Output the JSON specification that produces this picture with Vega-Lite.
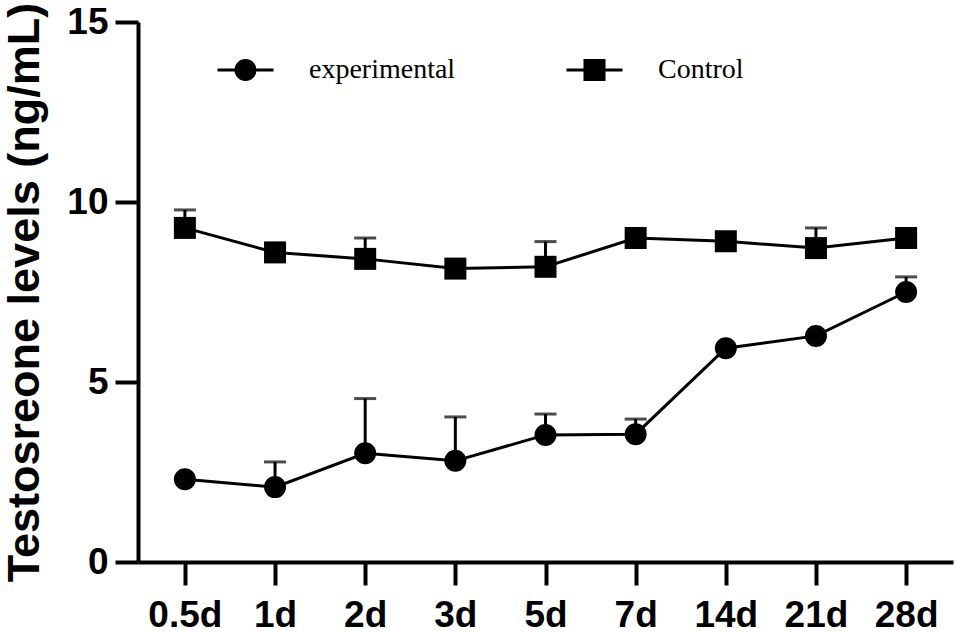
{
  "$schema": "https://vega.github.io/schema/vega-lite/v6.json",
  "width": 815,
  "height": 540,
  "autosize": "none",
  "padding": {"left": 138, "top": 22, "right": 4, "bottom": 71},
  "background": "white",
  "data": {
    "values": [
      {"time": "0.5d", "group": "experimental", "mean": 2.3, "upper": null},
      {"time": "1d", "group": "experimental", "mean": 2.08, "upper": 2.78},
      {"time": "2d", "group": "experimental", "mean": 3.02, "upper": 4.54},
      {"time": "3d", "group": "experimental", "mean": 2.81, "upper": 4.03},
      {"time": "5d", "group": "experimental", "mean": 3.53, "upper": 4.11},
      {"time": "7d", "group": "experimental", "mean": 3.55, "upper": 3.97},
      {"time": "14d", "group": "experimental", "mean": 5.94, "upper": null},
      {"time": "21d", "group": "experimental", "mean": 6.28, "upper": null},
      {"time": "28d", "group": "experimental", "mean": 7.5, "upper": 7.92},
      {"time": "0.5d", "group": "Control", "mean": 9.28, "upper": 9.78},
      {"time": "1d", "group": "Control", "mean": 8.6, "upper": null},
      {"time": "2d", "group": "Control", "mean": 8.42, "upper": 9.0},
      {"time": "3d", "group": "Control", "mean": 8.15, "upper": null},
      {"time": "5d", "group": "Control", "mean": 8.2, "upper": 8.9},
      {"time": "7d", "group": "Control", "mean": 9.0, "upper": null},
      {"time": "14d", "group": "Control", "mean": 8.91, "upper": null},
      {"time": "21d", "group": "Control", "mean": 8.72, "upper": 9.28},
      {"time": "28d", "group": "Control", "mean": 9.0, "upper": null}
    ]
  },
  "encoding": {
    "x": {
      "field": "time",
      "type": "ordinal",
      "sort": ["0.5d", "1d", "2d", "3d", "5d", "7d", "14d", "21d", "28d"],
      "scale": {"type": "point", "padding": 0.52},
      "axis": {
        "title": null,
        "labelAngle": 0,
        "labelFont": "Liberation Sans",
        "labelFontWeight": "bold",
        "labelFontSize": 37,
        "labelColor": "black",
        "labelPadding": 12,
        "tickSize": 23,
        "tickWidth": 4,
        "tickColor": "black",
        "domainWidth": 4,
        "domainColor": "black",
        "grid": false
      }
    }
  },
  "layer": [
    {
      "transform": [{"filter": "datum.upper != null"}],
      "mark": {"type": "rule", "color": "black", "strokeWidth": 3},
      "encoding": {
        "y": {"field": "mean", "type": "quantitative"},
        "y2": {"field": "upper"}
      }
    },
    {
      "transform": [{"filter": "datum.upper != null"}],
      "mark": {"type": "tick", "color": "black", "size": 22, "thickness": 3, "orient": "horizontal"},
      "encoding": {
        "y": {"field": "upper", "type": "quantitative"}
      }
    },
    {
      "mark": {"type": "line", "color": "black", "strokeWidth": 3},
      "encoding": {
        "y": {"field": "mean", "type": "quantitative"},
        "detail": {"field": "group"}
      }
    },
    {
      "mark": {"type": "point", "filled": true, "color": "black", "opacity": 1, "size": 484},
      "encoding": {
        "y": {
          "field": "mean",
          "type": "quantitative",
          "scale": {"domain": [0, 15], "nice": false},
          "axis": {
            "title": "Testosreone levels (ng/mL)",
            "titleFont": "Liberation Sans",
            "titleFontWeight": "bold",
            "titleFontSize": 45,
            "titleColor": "black",
            "titleX": -100,
            "titleY": 270,
            "titleAngle": 270,
            "titleBaseline": "alphabetic",
            "titleAlign": "center",
            "values": [0, 5, 10, 15],
            "labelFont": "Liberation Sans",
            "labelFontWeight": "bold",
            "labelFontSize": 37,
            "labelColor": "black",
            "labelPadding": 7,
            "tickSize": 23,
            "tickWidth": 4,
            "tickColor": "black",
            "domainWidth": 4,
            "domainColor": "black",
            "grid": false
          }
        },
        "shape": {
          "field": "group",
          "type": "nominal",
          "scale": {"domain": ["experimental", "Control"], "range": ["circle", "square"]},
          "legend": null
        }
      }
    },
    {
      "transform": [{"filter": "datum.mean < 0"}],
      "mark": {"type": "point", "filled": false, "color": "black", "stroke": "black", "strokeWidth": 3, "opacity": 1, "size": 3136},
      "encoding": {
        "y": {"field": "mean", "type": "quantitative"},
        "shape": {
          "field": "group",
          "type": "nominal",
          "scale": {
            "domain": ["experimental", "Control"],
            "range": [
              "M-1,0H1M0,-0.07V0.07M0.34,0A0.34,0.34,0,1,1,-0.34,0A0.34,0.34,0,1,1,0.34,0M0.25,0A0.25,0.25,0,1,1,-0.25,0A0.25,0.25,0,1,1,0.25,0M0.16,0A0.16,0.16,0,1,1,-0.16,0A0.16,0.16,0,1,1,0.16,0M0.07,0A0.07,0.07,0,1,1,-0.07,0A0.07,0.07,0,1,1,0.07,0",
              "M-1,0H1M0,-0.07V0.07M-0.34,-0.34H0.34V0.34H-0.34ZM-0.25,-0.25H0.25V0.25H-0.25ZM-0.16,-0.16H0.16V0.16H-0.16ZM-0.07,-0.07H0.07V0.07H-0.07Z"
            ]
          },
          "legend": {
            "title": null,
            "orient": "none",
            "legendX": 78,
            "legendY": 18,
            "direction": "horizontal",
            "padding": 0,
            "columnPadding": 104,
            "symbolSize": 3136,
            "symbolStrokeWidth": 3,
            "symbolStrokeColor": "black",
            "labelFont": "Liberation Serif",
            "labelFontSize": 28,
            "labelColor": "black",
            "labelOffset": 34,
            "labelLimit": 300
          }
        }
      }
    }
  ],
  "resolve": {"scale": {"shape": "independent"}},
  "config": {
    "view": {"stroke": null}
  }
}
